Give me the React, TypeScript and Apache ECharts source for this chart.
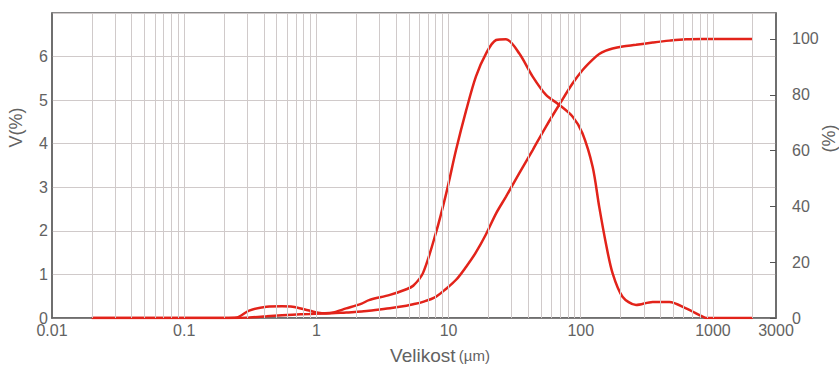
import React, { useEffect, useRef } from "react";
import * as echarts from "echarts";

const sizes = [0.02, 0.05, 0.1, 0.2, 0.25, 0.31, 0.42, 0.55, 0.66, 0.88, 1.1, 1.3, 1.68, 2.2, 2.5, 3.6, 4.8, 5.4, 6.4, 8.0, 9.6, 11.4, 13.6, 16.1, 19.2, 22.9, 27.2, 34.3, 43.3, 54.6, 68.9, 86.9, 103, 123, 138, 155, 174, 207, 262, 350, 468, 626, 836, 890, 1000, 2000];
const volume = [0, 0, 0, 0, 0.01, 0.17, 0.26, 0.27, 0.26, 0.17, 0.11, 0.12, 0.22, 0.33, 0.41, 0.53, 0.66, 0.74, 1.03, 1.94, 2.86, 3.86, 4.77, 5.54, 6.07, 6.38, 6.4, 6.07, 5.54, 5.12, 4.89, 4.62, 4.24, 3.47, 2.55, 1.71, 1.03, 0.49, 0.3, 0.37, 0.37, 0.22, 0.03, 0, 0, 0];
const cumulative = [0, 0, 0, 0, 0, 0.2, 0.6, 1.0, 1.2, 1.4, 1.6, 1.7, 2.0, 2.3, 2.6, 3.5, 4.4, 4.9, 5.8, 7.6, 10.5, 13.7, 18.4, 23.5, 30, 37.5, 43.5, 51.9, 60.2, 68.6, 76.5, 84.1, 88.8, 92.6, 94.6, 95.8, 96.6, 97.3, 97.9, 98.7, 99.4, 99.9, 100, 100, 100, 100];

const xTickLabels = [0.01, 0.1, 1, 10, 100, 1000, 3000];
const rightTickLabels = [0, 20, 40, 60, 80, 100];
const gridSizes = [
  0.02, 0.03, 0.04, 0.05, 0.06, 0.07, 0.08, 0.09,
  0.1, 0.2, 0.3, 0.4, 0.5, 0.6, 0.7, 0.8, 0.9,
  1, 2, 3, 4, 5, 6, 7, 8, 9,
  10, 20, 30, 40, 50, 60, 70, 80, 90,
  100, 200, 300, 400, 500, 600, 700, 800, 900,
  1000, 2000,
];

const FONT = "'Liberation Sans', Arial, sans-serif";
const LABEL_COLOR = "#626262";
const RED = "#e2231a";
const GRID_COLOR = "#d0caca";

export default function App() {
  const ref = useRef<HTMLDivElement>(null);
  useEffect(() => {
    if (!ref.current) return;
    const chart = echarts.init(ref.current, undefined, { renderer: "svg" });
    chart.setOption({
      animation: false,
      grid: {
        left: 52,
        right: 63,
        top: 13,
        bottom: 53,
        outerBoundsMode: "none",
        containLabel: false,
        show: true,
        borderColor: "#666",
        borderWidth: 1.5,
        backgroundColor: "transparent",
      },
      xAxis: {
        type: "log",
        logBase: 10,
        min: 0.01,
        max: 3000,
        name: "{a|Velikost} {b|(µm)}",
        nameLocation: "middle",
        nameGap: 28,
        nameMoveOverlap: false,
        nameTextStyle: {
          padding: [0, 0, 0, 52],
          rich: {
            a: { fontSize: 19, fontFamily: FONT, color: LABEL_COLOR },
            b: { fontSize: 15, fontFamily: FONT, color: LABEL_COLOR },
          },
        },
        axisLine: { show: true, lineStyle: { color: "#666", width: 1.5 } },
        axisTick: { show: false },
        splitLine: { show: false },
        minorSplitLine: { show: false },
        axisLabel: {
          customValues: xTickLabels,
          margin: 4,
          fontSize: 16,
          fontFamily: FONT,
          color: LABEL_COLOR,
          formatter: (v: number) => String(Number(Number(v).toPrecision(6))),
        },
      },
      yAxis: [
        {
          type: "value",
          min: 0,
          max: 7,
          interval: 1,
          name: "V(%)",
          nameLocation: "middle",
          nameGap: 27,
          nameMoveOverlap: false,
          nameTextStyle: { fontSize: 18, fontFamily: FONT, color: LABEL_COLOR, padding: [0, 0, 0, 76] },
          axisLine: { show: true, lineStyle: { color: "#666", width: 1.5 } },
          axisTick: { show: false },
          splitLine: { show: true, lineStyle: { color: GRID_COLOR, width: 1 } },
          axisLabel: {
            margin: 4,
            fontSize: 16,
            fontFamily: FONT,
            color: LABEL_COLOR,
            formatter: (v: number) => (v > 6 ? "" : String(v)),
          },
        },
        {
          type: "value",
          position: "right",
          min: 0,
          max: 109.3,
          name: "(%)",
          nameLocation: "middle",
          nameGap: 44,
          nameMoveOverlap: false,
          nameTextStyle: { fontSize: 18, fontFamily: FONT, color: LABEL_COLOR, padding: [0, 0, 0, 54] },
          axisLine: { show: true, lineStyle: { color: "#666", width: 1.5 } },
          axisTick: {
            show: true,
            inside: true,
            length: 6,
            customValues: rightTickLabels,
            lineStyle: { color: "#555", width: 1 },
          },
          splitLine: { show: false },
          axisLabel: {
            customValues: rightTickLabels,
            margin: 16,
            fontSize: 16,
            fontFamily: FONT,
            color: LABEL_COLOR,
          },
        },
      ],
      series: [
        {
          type: "line",
          name: "grid",
          data: [[0.02, 0]],
          symbol: "none",
          lineStyle: { opacity: 0 },
          silent: true,
          z: 1,
          markLine: {
            silent: true,
            symbol: ["none", "none"],
            label: { show: false },
            lineStyle: { color: GRID_COLOR, width: 1, type: "solid" },
            emphasis: { disabled: true },
            data: gridSizes.map((v) => ({ xAxis: v })),
          },
        },
        {
          type: "line",
          name: "V",
          yAxisIndex: 0,
          data: sizes.map((s, i) => [s, volume[i]]),
          symbol: "none",
          smooth: 0.3,
          z: 3,
          lineStyle: { color: RED, width: 2.5 },
          emphasis: { disabled: true },
        },
        {
          type: "line",
          name: "Cum",
          yAxisIndex: 1,
          data: sizes.map((s, i) => [s, cumulative[i]]),
          symbol: "none",
          smooth: 0.35,
          z: 3,
          lineStyle: { color: RED, width: 2.5 },
          emphasis: { disabled: true },
        },
      ],
    });
    return () => chart.dispose();
  }, []);
  return <div ref={ref} style={{ width: 839, height: 371, position: "absolute", left: 0, top: 0 }} />;
}
